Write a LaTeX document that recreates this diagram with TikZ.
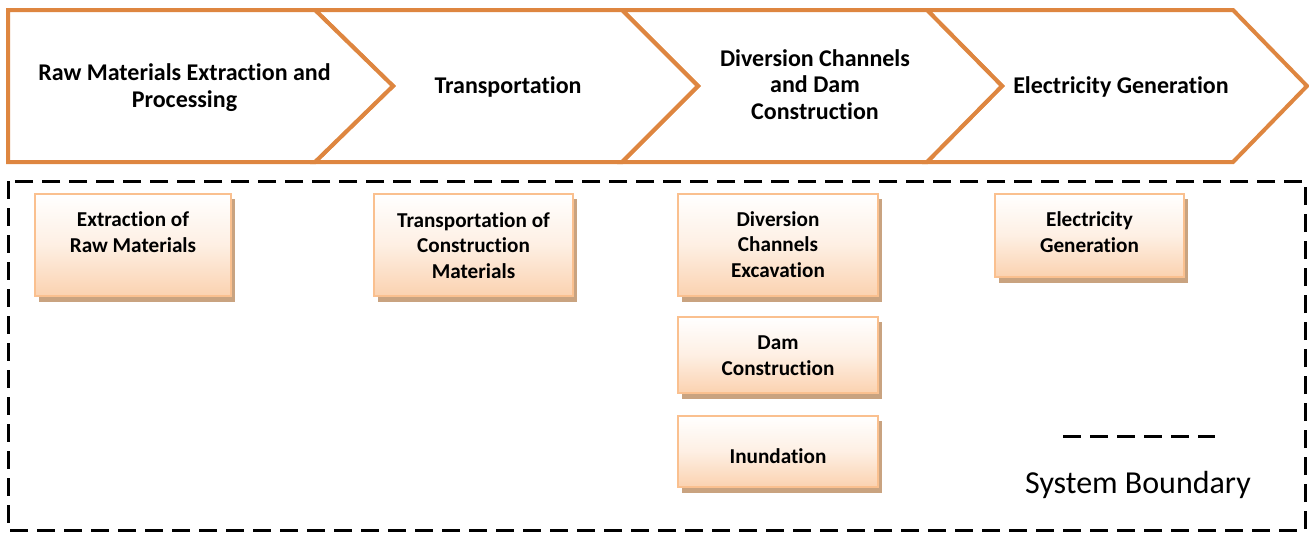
\documentclass[tikz,border=0pt]{standalone}
\usepackage{fontspec}
\setmainfont[Ligatures=NoCommon]{Carlito}
\definecolor{chev}{RGB}{222,134,64}
\definecolor{boxline}{RGB}{250,192,143}
\definecolor{boxfill}{RGB}{251,210,176}
\definecolor{boxshadow}{RGB}{201,163,128}
\tikzset{
  chevron/.style={draw=chev,line width=4pt,fill=white,line join=miter},
  headtext/.style={font=\fontsize{24}{26.5}\selectfont\bfseries,align=center,anchor=base,inner sep=0pt},
  boxtext/.style={font=\fontsize{21.2}{25.5}\selectfont\bfseries,align=center,anchor=base,inner sep=0pt},
  stepbox/.style={draw=boxline,line width=1.5pt,top color=white,bottom color=boxfill,middle color=boxfill!35},
  boxshade/.style={fill=boxshadow},
  boundary/.style={draw=black,line width=3pt,dash pattern=on 18pt off 9pt},
}
\begin{document}
\begin{tikzpicture}[x=1pt,y=-1pt]
\useasboundingbox (0,0) rectangle (1309,533);
% chevrons
\draw[chevron] (927,10) -- (1233,10) -- (1307,86) -- (1233,162) -- (927,162) -- (1002,86) -- cycle;
\draw[chevron] (622,10) -- (927,10) -- (1002,86) -- (927,162) -- (622,162) -- (698,86) -- cycle;
\draw[chevron] (315,10) -- (622,10) -- (698,86) -- (622,162) -- (315,162) -- (393,86) -- cycle;
\draw[chevron] (8,10) -- (315,10) -- (393,86) -- (315,162) -- (8,162) -- cycle;
\node[headtext] (h1) at (184.5,107) {Raw Materials Extraction and\\Processing};
\node[headtext] (h2) at (508,93) {Transportation};
\node[headtext] (h3) at (815,119) {Diversion Channels\\and Dam\\Construction};
\node[headtext] (h4) at (1121,93) {Electricity Generation};
% system boundary
\draw[boundary] (8,181) rectangle (1305,530);
% boxes
\foreach \x/\y/\X/\Y in {35/194/231/296, 374/194/573/296, 678/194/878/296, 678/317/878/393, 678/416/878/487, 995/194/1184/277}{
  \fill[boxshade] (\x+4,\y+5) rectangle (\X+4,\Y+6);
  \draw[stepbox] (\x,\y) rectangle (\X,\Y);
}
\node[boxtext] (b1) at (133,252) {Extraction of\\Raw Materials};
\node[boxtext] (b2) at (473.5,278) {Transportation of\\Construction\\Materials};
\node[boxtext] (b3) at (778,277) {Diversion\\Channels\\Excavation};
\node[boxtext] (b4) at (778,375) {Dam\\Construction};
\node[boxtext] (b5) at (778,463) {Inundation};
\node[boxtext] (b6) at (1089.5,252) {Electricity\\Generation};
% legend
\coordinate (l1) at (1063,436);
\coordinate (l2) at (1215,436);
\draw[boundary] (l1) -- (l2);
\node[font=\fontsize{32}{34}\selectfont,anchor=base,inner sep=0pt] (leg) at (1138,493) {System Boundary};
\end{tikzpicture}
\end{document}
